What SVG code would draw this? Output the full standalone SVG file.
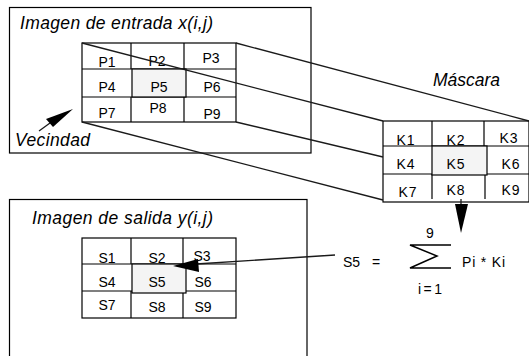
<svg xmlns="http://www.w3.org/2000/svg" width="529" height="356" viewBox="0 0 529 356">
<style>
.box{fill:none;stroke:#000;stroke-width:1.2}
.grid{fill:none;stroke:#000;stroke-width:1.2}
.hl{fill:#f4f4f4;stroke:#000;stroke-width:1.2}
.con{fill:none;stroke:#1a1a1a;stroke-width:1.3}
.ah{fill:#000;stroke:none}
.title{font-family:"Liberation Sans",Arial,sans-serif;font-style:italic;font-size:17.5px;fill:#000}
.cell{font-family:"Liberation Sans",Arial,sans-serif;font-size:14px;fill:#000;text-anchor:middle}
.k{letter-spacing:1px}
.f{font-family:"Liberation Sans",Arial,sans-serif;font-size:14px;fill:#000}
</style>
<rect width="529" height="356" fill="#fff"/>
<g id="input-image">
<rect class="box" x="9.5" y="7.5" width="301.5" height="145.5"/>
<text class="title" x="20" y="29" textLength="193" lengthAdjust="spacing">Imagen de entrada x(i,j)</text>
</g>
<g id="input-grid">
<rect class="grid" x="82" y="43" width="154" height="79"/>
<line class="grid" x1="82" y1="69" x2="236" y2="69"/>
<line class="grid" x1="82" y1="97" x2="236" y2="97"/>
<line class="grid" x1="131" y1="43" x2="131" y2="69"/>
<line class="grid" x1="184" y1="43" x2="184" y2="69"/>
<line class="grid" x1="131" y1="97" x2="131" y2="122"/>
<line class="grid" x1="184" y1="97" x2="184" y2="122"/>
<rect class="hl" x="132" y="69" width="54" height="28"/>
<text class="cell" x="107" y="67">P1</text>
<text class="cell" x="157" y="66">P2</text>
<text class="cell" x="211" y="63">P3</text>
<text class="cell" x="107" y="92">P4</text>
<text class="cell" x="159" y="92">P5</text>
<text class="cell" x="212" y="92">P6</text>
<text class="cell" x="107" y="118">P7</text>
<text class="cell" x="158" y="113">P8</text>
<text class="cell" x="212" y="119">P9</text>
</g>
<g id="mask">
<text class="title" x="433" y="86" textLength="67" lengthAdjust="spacing">Máscara</text>
<rect class="grid" x="383" y="121" width="146" height="81"/>
<line class="grid" x1="383" y1="146" x2="529" y2="146"/>
<line class="grid" x1="383" y1="174" x2="529" y2="174"/>
<line class="grid" x1="432" y1="121" x2="432" y2="146"/>
<line class="grid" x1="484" y1="121" x2="484" y2="146"/>
<line class="grid" x1="432" y1="174" x2="432" y2="199"/>
<line class="grid" x1="485" y1="174" x2="485" y2="199"/>
<rect class="hl" x="432" y="146" width="55" height="29"/>
<text class="cell k" x="406" y="145">K1</text>
<text class="cell k" x="456" y="145">K2</text>
<text class="cell k" x="509" y="143">K3</text>
<text class="cell k" x="406" y="169">K4</text>
<text class="cell k" x="456" y="169">K5</text>
<text class="cell k" x="511" y="169">K6</text>
<text class="cell k" x="408" y="197">K7</text>
<text class="cell k" x="456" y="195">K8</text>
<text class="cell k" x="511" y="195">K9</text>
</g>
<g id="output-image">
<rect class="box" x="9.5" y="199.5" width="297.5" height="170"/>
<text class="title" x="32" y="224" textLength="181" lengthAdjust="spacing">Imagen de salida y(i,j)</text>
</g>
<g id="output-grid">
<rect class="grid" x="82" y="238" width="154" height="80"/>
<line class="grid" x1="82" y1="264" x2="236" y2="264"/>
<line class="grid" x1="82" y1="291" x2="236" y2="291"/>
<line class="grid" x1="131" y1="238" x2="131" y2="264"/>
<line class="grid" x1="183" y1="238" x2="183" y2="264"/>
<line class="grid" x1="131" y1="291" x2="131" y2="318"/>
<line class="grid" x1="183" y1="291" x2="183" y2="318"/>
<rect class="hl" x="132" y="264" width="54" height="29"/>
<text class="cell" x="107" y="263">S1</text>
<text class="cell" x="157" y="263">S2</text>
<text class="cell" x="202" y="261">S3</text>
<text class="cell" x="107" y="287">S4</text>
<text class="cell" x="157" y="287">S5</text>
<text class="cell" x="203" y="287">S6</text>
<text class="cell" x="107" y="310">S7</text>
<text class="cell" x="157" y="312">S8</text>
<text class="cell" x="203" y="312">S9</text>
</g>
<g id="formula">
<text class="f" x="343" y="267">S5</text>
<text class="f" x="372" y="267">=</text>
<text class="f" x="426" y="238" font-size="13">9</text>
<polyline points="451,245 410,245 437,256 410,268 451,268" fill="none" stroke="#000" stroke-width="1.5"/>
<text class="f" x="462" y="267" textLength="43" lengthAdjust="spacing">Pi * Ki</text>
<text class="f" x="418" y="294" font-size="13" textLength="24" lengthAdjust="spacing">i=1</text>
</g>
<g id="vecindad">
<text class="title" x="15" y="146" textLength="75" lengthAdjust="spacing">Vecindad</text>
</g>
<g id="connectors">
<line class="con" x1="82" y1="43" x2="383" y2="121"/>
<line class="con" x1="236" y1="43" x2="529" y2="121"/>
<line class="con" x1="236" y1="122" x2="383" y2="157"/>
<line class="con" x1="82" y1="122" x2="383" y2="200"/>
<line class="con" x1="39" y1="131" x2="50" y2="123"/>
<polygon class="ah" points="73,109 46,119 53,127"/>
<line class="con" x1="461" y1="199" x2="461" y2="206"/>
<polygon class="ah" points="455,204 468,204 461,233"/>
<line class="con" x1="335" y1="255" x2="196" y2="264"/>
<polygon class="ah" points="173,266 198,259 199,272"/>
</g>
</svg>
